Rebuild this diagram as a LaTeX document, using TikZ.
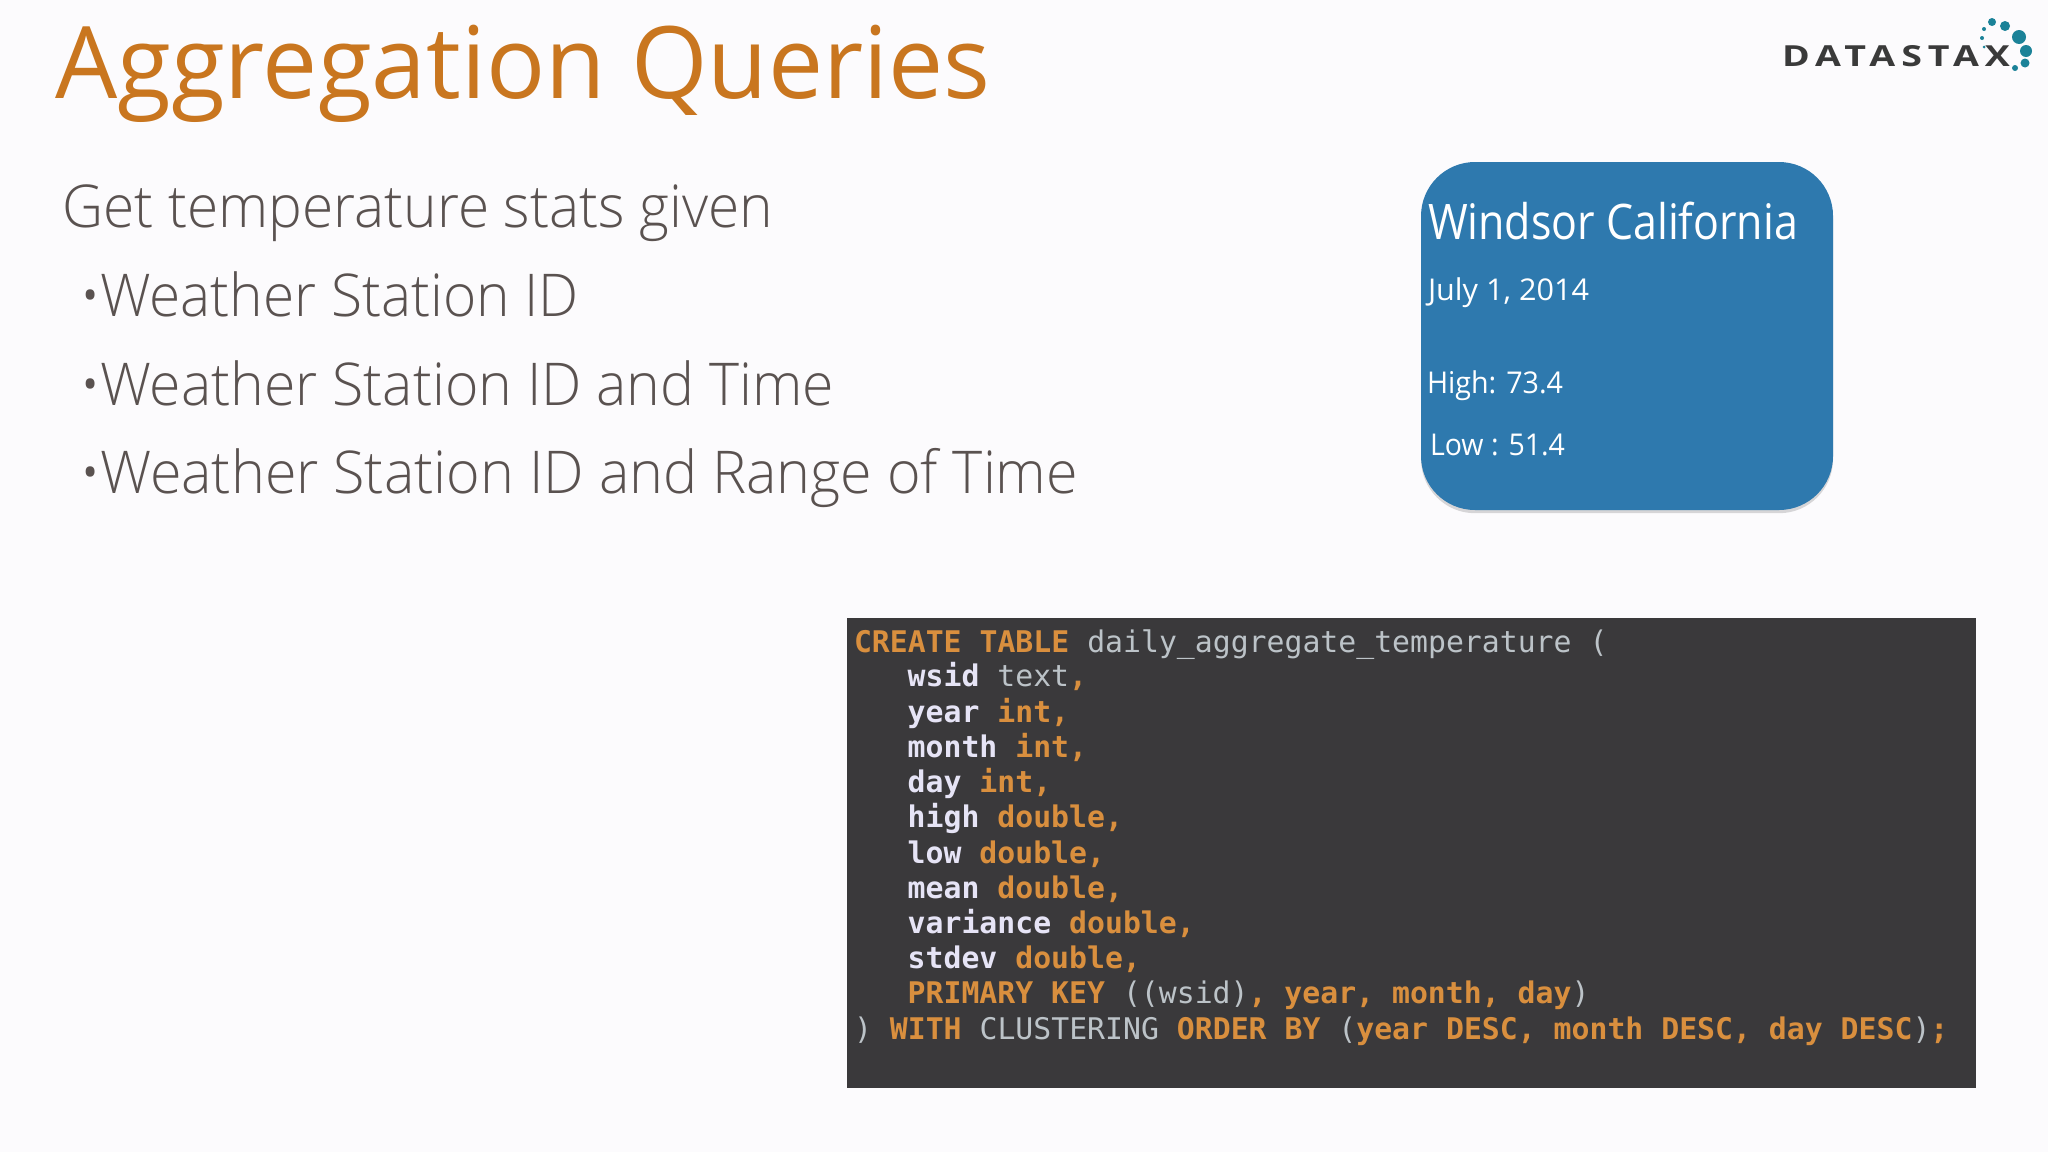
\documentclass[tikz,border=0pt]{standalone}
\usepackage{fontspec}
\usepackage{graphicx}
\usetikzlibrary{shadows}
\setmainfont{Open Sans Light}
\newfontfamily\titlefont{Open Sans}
\newfontfamily\cardfont{Open Sans}
\newfontfamily\logofont[LetterSpace=16]{Open Sans}
\setmonofont{DejaVu Sans Mono}
\newdimen\pxu \pxu=0.5pt
\newcommand\fitx[2]{\resizebox*{#1\pxu}{\totalheight}{#2}}
\definecolor{pagebg}{HTML}{FCFBFD}
\definecolor{titlecol}{HTML}{C9761F}
\definecolor{bodycol}{HTML}{5A5250}
\definecolor{cardcol}{HTML}{2E79AE}
\definecolor{codebg}{HTML}{3A393B}
\definecolor{kw}{HTML}{D98F3E}
\definecolor{nm}{HTML}{E6E4F6}
\definecolor{pl}{HTML}{BCC3C8}
\definecolor{logocol}{HTML}{3A3A3A}
\definecolor{dotcol}{HTML}{1B8298}
\newcommand\K[1]{\textcolor{kw}{\bfseries #1}}
\newcommand\N[1]{\textcolor{nm}{\bfseries #1}}
\newcommand\PL[1]{\textcolor{pl}{#1}}
\tikzset{
  txt/.style={inner sep=0pt,outer sep=0pt,anchor=base west},
  titletxt/.style={txt,text=titlecol,font=\titlefont\fontsize{50}{60}\selectfont},
  bodytxt/.style={txt,text=bodycol,font=\fontsize{29.5}{36}\selectfont},
  cardbig/.style={txt,text=white,font=\cardfont\fontsize{24.5}{30}\selectfont},
  cardsmall/.style={txt,text=white,font=\cardfont\fontsize{15}{18}\selectfont},
  codetxt/.style={txt,font=\ttfamily\fontsize{14.9}{17.6}\selectfont},
  dot/.style={circle,fill=dotcol,draw=none,inner sep=0pt,outer sep=0pt},
}
\begin{document}
\begin{tikzpicture}[x=0.5pt,y=-0.5pt]
\path[use as bounding box,fill=pagebg] (0,0) rectangle (2048,1152);
\node[titletxt] (title) at (55,98) {\fitx{935}{Aggregation Queries}};
\node[bodytxt] (intro) at (62,227) {\fitx{711}{Get temperature stats given}};
\node[bodytxt] (b1) at (79,316) {•};
\node[bodytxt] (t1) at (100,316) {\fitx{479}{Weather Station ID}};
\node[bodytxt] (b2) at (79,405) {•};
\node[bodytxt] (t2) at (100,405) {\fitx{734}{Weather Station ID and Time}};
\node[bodytxt] (b3) at (79,493) {•};
\node[bodytxt] (t3) at (100,493) {\fitx{978}{Weather Station ID and Range of Time}};
% card
\fill[cardcol,rounded corners=27pt,drop shadow={shadow xshift=0pt,shadow yshift=-1.6pt,opacity=0.25,fill=black!60}] (1421,162) rectangle (1833,510);
\node[cardbig] (city) at (1428,239) {\fitx{370}{Windsor California}};
\node[cardsmall] (date) at (1428,300) {\fitx{161}{July 1, 2014}};
\node[cardsmall] (high) at (1427,393) {\fitx{136}{High: 73.4}};
\node[cardsmall] (low) at (1430,455) {\fitx{135}{Low : 51.4}};
% code
\fill[codebg] (847,618) rectangle (1976,1088);
\node[codetxt] (c1) at (854,652) {\K{CREATE TABLE} \PL{daily\_aggregate\_temperature (}};
\node[codetxt] (c2) at (907.7,686.8) {\N{wsid} \PL{text}\K{,}};
\node[codetxt] (c3) at (907.7,722) {\N{year} \K{int,}};
\node[codetxt] (c4) at (907.7,757.3) {\N{month} \K{int,}};
\node[codetxt] (c5) at (907.7,792.5) {\N{day} \K{int,}};
\node[codetxt] (c6) at (907.7,827.8) {\N{high} \K{double,}};
\node[codetxt] (c7) at (907.7,863.1) {\N{low} \K{double,}};
\node[codetxt] (c8) at (907.7,898.3) {\N{mean} \K{double,}};
\node[codetxt] (c9) at (907.7,933.6) {\N{variance} \K{double,}};
\node[codetxt] (c10) at (907.7,968.8) {\N{stdev} \K{double,}};
\node[codetxt] (c11) at (907.7,1003.6) {\K{PRIMARY KEY} \PL{((wsid)}\K{, year, month, day}\PL{)}};
\node[codetxt] (c12) at (854,1039.9) {\PL{)} \K{WITH} \PL{CLUSTERING} \K{ORDER BY} \PL{(}\K{year DESC, month DESC, day DESC}\PL{)}\K{;}};
% logo
\node[txt,text=logocol,font=\logofont\bfseries\fontsize{14.5}{16}\selectfont] (logo) at (1782,66) {\fitx{228}{DATASTAX}};
\foreach \n/\x/\y/\r in {d1/1992/22/4,d2/2005/26/5,d3/2019/37/7,d4/2026/51/6,d5/2025/63/4.5,d6/2015/68/3,d7/1984/29/2,d8/1982/38/2,d9/1984/47/1.5}
  \node[dot,minimum size=\r] (\n) at (\x,\y) {};
\end{tikzpicture}
\end{document}
